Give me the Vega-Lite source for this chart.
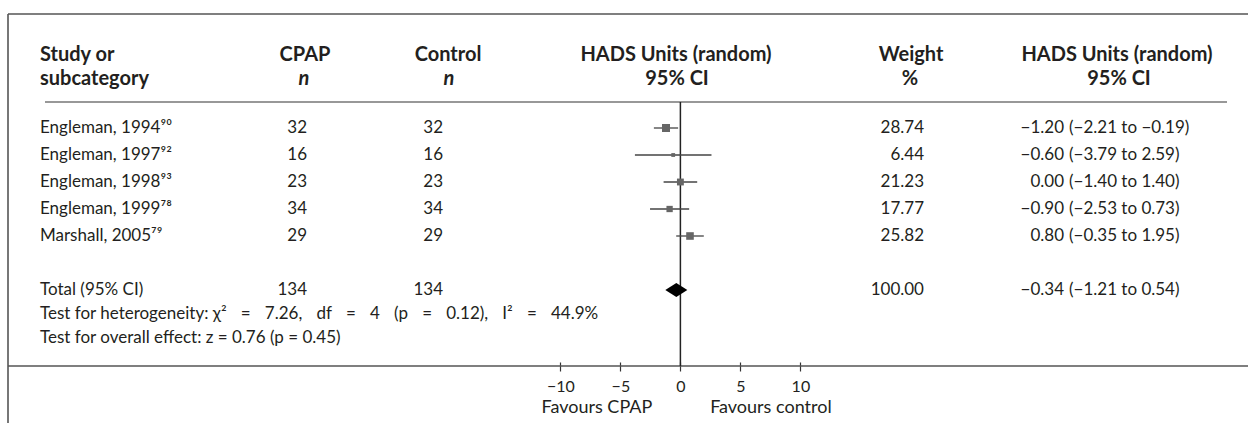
{
  "$schema": "https://vega.github.io/schema/vega-lite/v6.json",
  "width": 1248,
  "height": 366,
  "autosize": {"type": "none"},
  "padding": {"left": 0, "top": 0, "right": 0, "bottom": 57},
  "background": "white",
  "config": {
    "view": {"stroke": null},
    "text": {"font": "Lato", "fontSize": 17, "color": "#231f20", "baseline": "middle"}
  },
  "datasets": {
    "header": [
      {"line": "a", "study": "Study or", "cpap": "CPAP", "control": "Control", "plot": "HADS Units (random)", "weight": "Weight", "ci": "HADS Units (random)"},
      {"line": "b", "study": "subcategory", "cpap": "n", "control": "n", "plot": "95% CI", "weight": "%", "ci": "95% CI"}
    ],
    "studies": [
      {"study": "Engleman, 1994⁹⁰", "cpap": 32, "control": 32, "weight": 28.74, "est": -1.20, "lo": -2.21, "hi": -0.19},
      {"study": "Engleman, 1997⁹²", "cpap": 16, "control": 16, "weight": 6.44, "est": -0.60, "lo": -3.79, "hi": 2.59},
      {"study": "Engleman, 1998⁹³", "cpap": 23, "control": 23, "weight": 21.23, "est": 0.00, "lo": -1.40, "hi": 1.40},
      {"study": "Engleman, 1999⁷⁸", "cpap": 34, "control": 34, "weight": 17.77, "est": -0.90, "lo": -2.53, "hi": 0.73},
      {"study": "Marshall, 2005⁷⁹", "cpap": 29, "control": 29, "weight": 25.82, "est": 0.80, "lo": -0.35, "hi": 1.95}
    ],
    "summary": [
      {"line": "total", "label": "Total (95% CI)", "cpap": 134, "control": 134, "weight": 100.00, "est": -0.34, "lo": -1.21, "hi": 0.54}
    ],
    "notes": [
      {"line": "het", "text": "Test for heterogeneity: χ²\u2002\u2004=\u2002\u20047.26,\u2002\u2004df\u2002\u2004=\u2002\u20044\u2002\u2004(p\u2002\u2004=\u2002\u20040.12),\u2002\u2004I²\u2002\u2004=\u2002\u200444.9%"},
      {"line": "overall", "text": "Test for overall effect: z = 0.76 (p = 0.45)"}
    ]
  },
  "resolve": {"scale": {"y": "independent"}},
  "layer": [
    {
      "description": "outer frame: top edge",
      "data": {"values": [{}]},
      "mark": {"type": "rule", "color": "#555555", "strokeWidth": 1.6},
      "encoding": {"x": {"value": 8}, "x2": {"value": 1248}, "y": {"value": 14}}
    },
    {
      "description": "outer frame: left edge",
      "data": {"values": [{}]},
      "mark": {"type": "rule", "color": "#555555", "strokeWidth": 1.6},
      "encoding": {"x": {"value": 8}, "y": {"value": 14}, "y2": {"value": 423}}
    },
    {
      "description": "baseline under the table",
      "data": {"values": [{}]},
      "mark": {"type": "rule", "color": "#555555", "strokeWidth": 1.6},
      "encoding": {"x": {"value": 8}, "x2": {"value": 1248}, "y": {"value": 366}}
    },
    {
      "description": "rule under the column headings",
      "data": {"values": [{}]},
      "mark": {"type": "rule", "color": "#333333", "strokeWidth": 1.2},
      "encoding": {"x": {"value": 45}, "x2": {"value": 1227}, "y": {"value": 102}}
    },
    {
      "description": "line of no effect",
      "data": {"values": [{}]},
      "mark": {"type": "rule", "color": "#222222", "strokeWidth": 1.5},
      "encoding": {"x": {"datum": 0, "type": "quantitative"}, "y": {"value": 102}, "y2": {"value": 366}}
    },
    {
      "description": "confidence intervals of each study",
      "data": {"name": "studies"},
      "mark": {"type": "rule", "color": "#444444", "strokeWidth": 1.3},
      "encoding": {
        "x": {
          "field": "lo", "type": "quantitative", "title": null,
          "scale": {"domain": [-56.7, 47.3], "nice": false, "zero": false},
          "axis": {
            "values": [-10, -7, -5, 0, 5, 7.5, 10],
            "domain": false, "grid": false, "offset": -4,
            "tickSize": 9, "tickColor": "#333333", "tickWidth": 1.2,
            "tickOpacity": {"condition": {"test": "datum.value == -7 || datum.value == 7.5", "value": 0}, "value": 1},
            "labelExpr": "datum.value == -7 ? 'Favours CPAP' : datum.value == 7.5 ? 'Favours control' : (datum.value < 0 ? '\u2212' + abs(datum.value) : datum.label)",
            "labelFont": "Lato",
            "labelFontSize": {"condition": {"test": "datum.value == -7 || datum.value == 7.5", "value": 18}, "value": 16},
            "labelPadding": {"condition": {"test": "datum.value == -7 || datum.value == 7.5", "value": 27}, "value": 7},
            "labelColor": "#231f20",
            "labelBaseline": "top",
            "labelOverlap": false, "labelFlush": false, "labelBound": false
          }
        },
        "x2": {"field": "hi"},
        "y": {"field": "study", "type": "nominal", "axis": null,
              "scale": {"type": "point", "domain": ["Engleman, 1994⁹⁰", "Engleman, 1997⁹²", "Engleman, 1998⁹³", "Engleman, 1999⁷⁸", "Marshall, 2005⁷⁹"], "range": [128, 236], "padding": 0}}
      }
    },
    {
      "description": "point estimates, square area by weight",
      "data": {"name": "studies"},
      "mark": {"type": "point", "shape": "square", "filled": true, "color": "#666666", "opacity": 1},
      "encoding": {
        "x": {"field": "est", "type": "quantitative"},
        "y": {"field": "study", "type": "nominal", "axis": null,
              "scale": {"type": "point", "domain": ["Engleman, 1994⁹⁰", "Engleman, 1997⁹²", "Engleman, 1998⁹³", "Engleman, 1999⁷⁸", "Marshall, 2005⁷⁹"], "range": [128, 236], "padding": 0}},
        "size": {"field": "weight", "type": "quantitative", "legend": null, "scale": {"domain": [0, 30], "range": [0, 67], "zero": true}}
      }
    },
    {
      "description": "pooled estimate diamond",
      "data": {"name": "summary"},
      "mark": {"type": "point", "shape": "M-1,0L0,-0.64L1,0L0,0.64Z", "filled": true, "color": "#000000", "opacity": 1, "size": 484},
      "encoding": {
        "x": {"field": "est", "type": "quantitative"},
        "y": {"field": "line", "type": "nominal", "axis": null,
              "scale": {"type": "point", "domain": ["total", "het", "overall"], "range": [290, 338], "padding": 0}}
      }
    },
    {
      "description": "heading line a",
      "data": {"name": "header"},
      "transform": [{"filter": "datum.line == 'a'"}],
      "layer": [
        {"mark": {"type": "text", "align": "left", "fontWeight": "bold", "fontSize": 20}, "encoding": {"x": {"value": 40}, "text": {"field": "study"}}},
        {"mark": {"type": "text", "align": "center", "fontWeight": "bold", "fontSize": 20}, "encoding": {"x": {"value": 305}, "text": {"field": "cpap"}}},
        {"mark": {"type": "text", "align": "center", "fontWeight": "bold", "fontSize": 20}, "encoding": {"x": {"value": 448}, "text": {"field": "control"}}},
        {"mark": {"type": "text", "align": "center", "fontWeight": "bold", "fontSize": 20}, "encoding": {"x": {"value": 676}, "text": {"field": "plot"}}},
        {"mark": {"type": "text", "align": "center", "fontWeight": "bold", "fontSize": 20}, "encoding": {"x": {"value": 911}, "text": {"field": "weight"}}},
        {"mark": {"type": "text", "align": "center", "fontWeight": "bold", "fontSize": 20}, "encoding": {"x": {"value": 1117}, "text": {"field": "ci"}}}
      ],
      "encoding": {
        "y": {"field": "line", "type": "nominal", "axis": null, "scale": {"type": "point", "domain": ["a", "b"], "range": [55, 79], "padding": 0}}
      }
    },
    {
      "description": "heading line b",
      "data": {"name": "header"},
      "transform": [{"filter": "datum.line == 'b'"}],
      "layer": [
        {"mark": {"type": "text", "align": "left", "fontWeight": "bold", "fontSize": 20}, "encoding": {"x": {"value": 40}, "text": {"field": "study"}}},
        {"mark": {"type": "text", "align": "center", "fontWeight": "bold", "fontStyle": "italic", "fontSize": 20}, "encoding": {"x": {"value": 304}, "text": {"field": "cpap"}}},
        {"mark": {"type": "text", "align": "center", "fontWeight": "bold", "fontStyle": "italic", "fontSize": 20}, "encoding": {"x": {"value": 449}, "text": {"field": "control"}}},
        {"mark": {"type": "text", "align": "center", "fontWeight": "bold", "fontSize": 20}, "encoding": {"x": {"value": 677}, "text": {"field": "plot"}}},
        {"mark": {"type": "text", "align": "center", "fontWeight": "bold", "fontSize": 20}, "encoding": {"x": {"value": 910}, "text": {"field": "weight"}}},
        {"mark": {"type": "text", "align": "center", "fontWeight": "bold", "fontSize": 20}, "encoding": {"x": {"value": 1119}, "text": {"field": "ci"}}}
      ],
      "encoding": {
        "y": {"field": "line", "type": "nominal", "axis": null, "scale": {"type": "point", "domain": ["a", "b"], "range": [55, 79], "padding": 0}}
      }
    },
    {
      "description": "study table columns",
      "data": {"name": "studies"},
      "encoding": {
        "y": {"field": "study", "type": "nominal", "axis": null,
              "scale": {"type": "point", "domain": ["Engleman, 1994⁹⁰", "Engleman, 1997⁹²", "Engleman, 1998⁹³", "Engleman, 1999⁷⁸", "Marshall, 2005⁷⁹"], "range": [128, 236], "padding": 0}}
      },
      "layer": [
        {"mark": {"type": "text", "align": "left"}, "encoding": {"x": {"value": 40}, "text": {"field": "study"}}},
        {"mark": {"type": "text", "align": "right"}, "encoding": {"x": {"value": 307}, "text": {"field": "cpap", "type": "quantitative"}}},
        {"mark": {"type": "text", "align": "right"}, "encoding": {"x": {"value": 443}, "text": {"field": "control", "type": "quantitative"}}},
        {"mark": {"type": "text", "align": "right"}, "encoding": {"x": {"value": 924}, "text": {"field": "weight", "type": "quantitative", "format": ".2f"}}},
        {"mark": {"type": "text", "align": "right"}, "encoding": {"x": {"value": 1064}, "text": {"field": "est", "type": "quantitative", "format": ".2f"}}},
        {"mark": {"type": "text", "align": "left"}, "encoding": {"x": {"value": 1069}, "text": {"value": {"expr": "'(' + format(datum.lo, '.2f') + ' to ' + format(datum.hi, '.2f') + ')'"}}}}
      ]
    },
    {
      "description": "pooled row",
      "data": {"name": "summary"},
      "encoding": {
        "y": {"field": "line", "type": "nominal", "axis": null,
              "scale": {"type": "point", "domain": ["total", "het", "overall"], "range": [290, 338], "padding": 0}}
      },
      "layer": [
        {"mark": {"type": "text", "align": "left"}, "encoding": {"x": {"value": 40}, "text": {"field": "label"}}},
        {"mark": {"type": "text", "align": "right"}, "encoding": {"x": {"value": 307}, "text": {"field": "cpap", "type": "quantitative"}}},
        {"mark": {"type": "text", "align": "right"}, "encoding": {"x": {"value": 443}, "text": {"field": "control", "type": "quantitative"}}},
        {"mark": {"type": "text", "align": "right"}, "encoding": {"x": {"value": 924}, "text": {"field": "weight", "type": "quantitative", "format": ".2f"}}},
        {"mark": {"type": "text", "align": "right"}, "encoding": {"x": {"value": 1064}, "text": {"field": "est", "type": "quantitative", "format": ".2f"}}},
        {"mark": {"type": "text", "align": "left"}, "encoding": {"x": {"value": 1069}, "text": {"value": {"expr": "'(' + format(datum.lo, '.2f') + ' to ' + format(datum.hi, '.2f') + ')'"}}}}
      ]
    },
    {
      "description": "heterogeneity and overall effect tests",
      "data": {"name": "notes"},
      "mark": {"type": "text", "align": "left"},
      "encoding": {
        "x": {"value": 40},
        "y": {"field": "line", "type": "nominal", "axis": null,
              "scale": {"type": "point", "domain": ["total", "het", "overall"], "range": [290, 338], "padding": 0}},
        "text": {"field": "text"}
      }
    }
  ]
}
